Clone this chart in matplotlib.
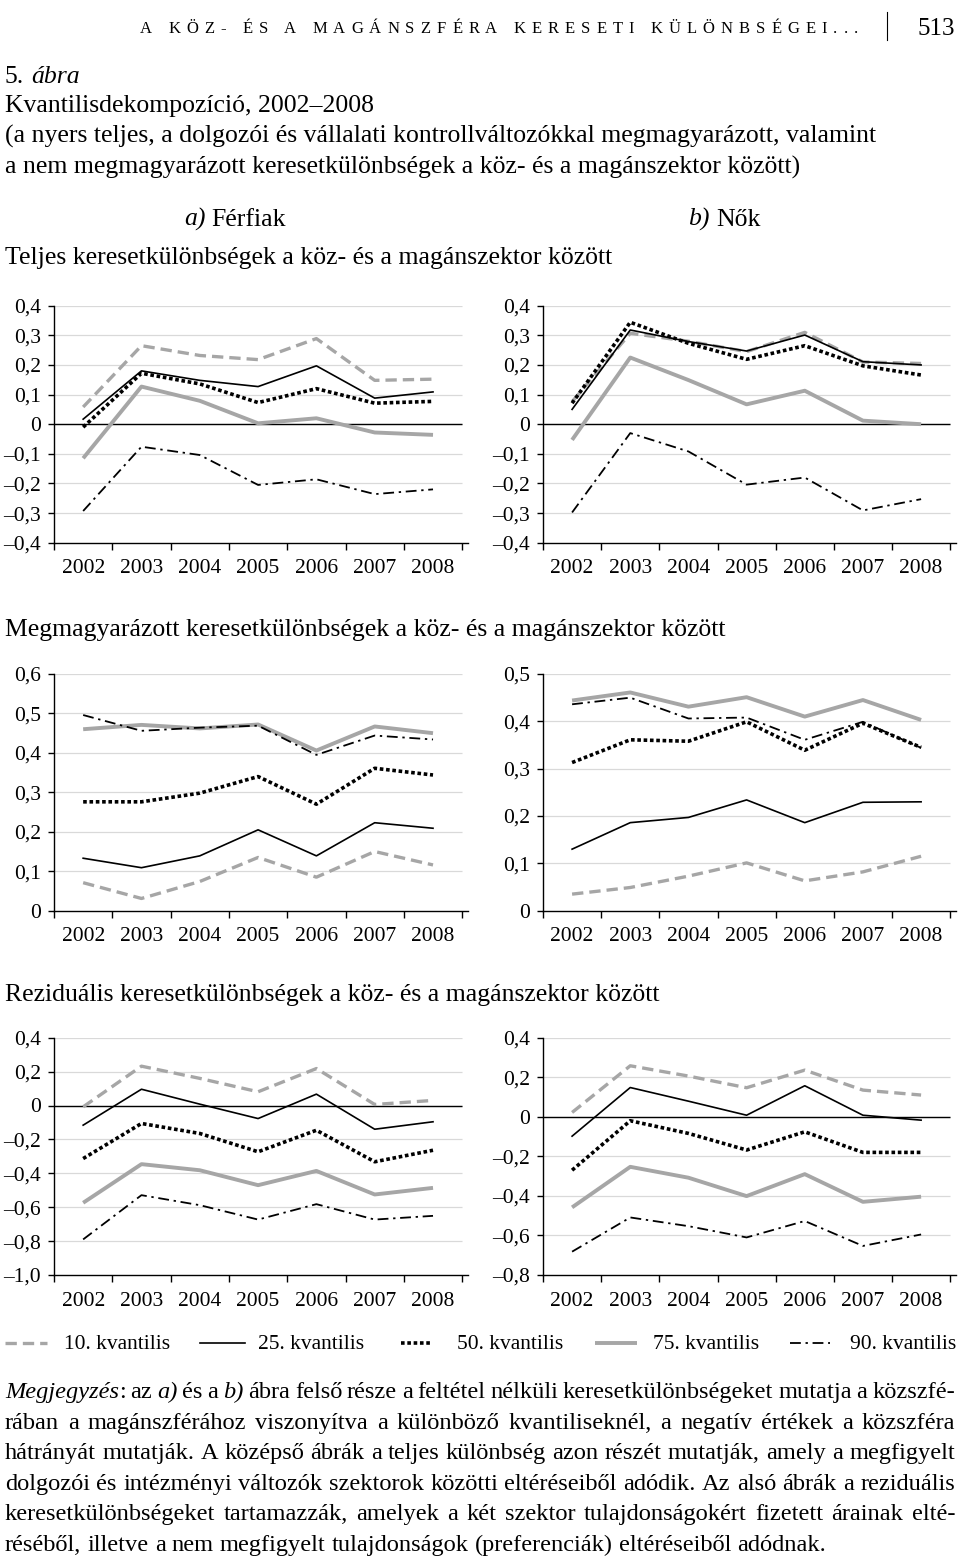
import matplotlib
matplotlib.use('Agg')
import matplotlib.pyplot as plt
from matplotlib.lines import Line2D
import numpy as np

# ---------------- data ----------------
years = ['2002', '2003', '2004', '2005', '2006', '2007', '2008']
quantile_labels = ['10. kvantilis', '25. kvantilis', '50. kvantilis', '75. kvantilis', '90. kvantilis']

# Total gaps (top row)
men_total_q10 = [0.058, 0.265, 0.232, 0.218, 0.289, 0.148, 0.152]
men_total_q25 = [0.017, 0.180, 0.148, 0.127, 0.197, 0.088, 0.109]
men_total_q50 = [-0.010, 0.172, 0.136, 0.073, 0.120, 0.071, 0.077]
men_total_q75 = [-0.115, 0.127, 0.079, 0.003, 0.020, -0.028, -0.036]
men_total_q90 = [-0.293, -0.076, -0.104, -0.205, -0.186, -0.236, -0.220]

women_total_q10 = [0.076, 0.307, 0.280, 0.245, 0.310, 0.210, 0.205]
women_total_q25 = [0.050, 0.318, 0.279, 0.247, 0.301, 0.211, 0.200]
women_total_q50 = [0.071, 0.344, 0.273, 0.219, 0.265, 0.197, 0.166]
women_total_q75 = [-0.053, 0.225, 0.149, 0.067, 0.113, 0.012, 0.000]
women_total_q90 = [-0.298, -0.030, -0.092, -0.204, -0.180, -0.291, -0.253]

# Explained gaps (middle row)
men_expl_q10 = [0.071, 0.031, 0.074, 0.135, 0.085, 0.150, 0.116]
men_expl_q25 = [0.133, 0.109, 0.139, 0.205, 0.139, 0.223, 0.209]
men_expl_q50 = [0.276, 0.276, 0.298, 0.340, 0.270, 0.361, 0.344]
men_expl_q75 = [0.460, 0.471, 0.462, 0.472, 0.406, 0.467, 0.450]
men_expl_q90 = [0.496, 0.456, 0.464, 0.469, 0.395, 0.444, 0.434]

women_expl_q10 = [0.035, 0.049, 0.073, 0.101, 0.063, 0.082, 0.115]
women_expl_q25 = [0.130, 0.186, 0.197, 0.234, 0.186, 0.229, 0.230]
women_expl_q50 = [0.313, 0.361, 0.358, 0.399, 0.339, 0.396, 0.345]
women_expl_q75 = [0.444, 0.461, 0.431, 0.451, 0.410, 0.445, 0.403]
women_expl_q90 = [0.436, 0.450, 0.406, 0.408, 0.361, 0.399, 0.344]

# Residual gaps (bottom row)
men_resid_q10 = [-0.008, 0.232, 0.160, 0.081, 0.218, 0.006, 0.030]
men_resid_q25 = [-0.116, 0.096, 0.008, -0.077, 0.067, -0.140, -0.096]
men_resid_q50 = [-0.313, -0.106, -0.165, -0.273, -0.146, -0.332, -0.264]
men_resid_q75 = [-0.574, -0.346, -0.382, -0.470, -0.386, -0.525, -0.486]
men_resid_q90 = [-0.790, -0.529, -0.588, -0.673, -0.582, -0.673, -0.651]

women_resid_q10 = [0.022, 0.258, 0.206, 0.147, 0.236, 0.135, 0.110]
women_resid_q25 = [-0.098, 0.148, 0.079, 0.008, 0.157, 0.008, -0.017]
women_resid_q50 = [-0.270, -0.020, -0.084, -0.168, -0.076, -0.180, -0.180]
women_resid_q75 = [-0.458, -0.253, -0.308, -0.401, -0.290, -0.430, -0.404]
women_resid_q90 = [-0.682, -0.509, -0.553, -0.610, -0.527, -0.653, -0.595]

# y-axis ticks / labels
top_yticks = [-0.4, -0.3, -0.2, -0.1, 0, 0.1, 0.2, 0.3, 0.4]
top_ylabels = ['–0,4', '–0,3', '–0,2', '–0,1', '0', '0,1', '0,2', '0,3', '0,4']
midL_yticks = [0, 0.1, 0.2, 0.3, 0.4, 0.5, 0.6]
midL_ylabels = ['0', '0,1', '0,2', '0,3', '0,4', '0,5', '0,6']
midR_yticks = [0, 0.1, 0.2, 0.3, 0.4, 0.5]
midR_ylabels = ['0', '0,1', '0,2', '0,3', '0,4', '0,5']
botL_yticks = [-1.0, -0.8, -0.6, -0.4, -0.2, 0, 0.2, 0.4]
botL_ylabels = ['–1,0', '–0,8', '–0,6', '–0,4', '–0,2', '0', '0,2', '0,4']
botR_yticks = [-0.8, -0.6, -0.4, -0.2, 0, 0.2, 0.4]
botR_ylabels = ['–0,8', '–0,6', '–0,4', '–0,2', '0', '0,2', '0,4']

# ---------------- style ----------------
SERIF = ['Liberation Serif', 'DejaVu Serif']
plt.rcParams['font.family'] = SERIF
GRAY = '#a6a6a6'
styles = [
    dict(color=GRAY, lw=2.4, dashes=(3.4, 1.8), dash_capstyle='butt'),
    dict(color='black', lw=1.2),
    dict(color='black', lw=2.6, dashes=(1.0, 0.75), dash_capstyle='butt'),
    dict(color=GRAY, lw=2.8, solid_capstyle='butt'),
    dict(color='black', lw=1.3, dashes=(6, 2.6, 1.3, 2.6), dash_capstyle='butt'),
]

W, H = 960, 1566
fig = plt.figure(figsize=(W / 100, H / 100), dpi=100)
renderer = fig.canvas.get_renderer()


def fx(x):
    return x / W


def fy(y):
    return 1 - y / H


def add_axes(x0, y_top, y_bot, width_px):
    return fig.add_axes([fx(x0), fy(y_bot), width_px / W, (y_bot - y_top) / H])


def setup(ax, yticks, ylabels, zero_line):
    ax.set_xlim(-0.5, 6.6)
    ax.set_ylim(yticks[0], yticks[-1])
    for s in ['top', 'right']:
        ax.spines[s].set_visible(False)
    for s in ['left', 'bottom']:
        ax.spines[s].set_linewidth(1.0)
    ax.set_yticks(yticks)
    ax.set_yticklabels(ylabels, fontsize=15.5)
    ax.tick_params(axis='y', direction='out', length=4.5, width=1.0, pad=5)
    ax.set_xticks(np.arange(-0.5, 7.0, 1.0))
    ax.set_xticklabels([])
    ax.tick_params(axis='x', which='major', direction='out', length=5, width=1.0)
    ax.set_xticks(range(7), minor=True)
    ax.set_xticklabels(years, minor=True, fontsize=15.5)
    ax.tick_params(axis='x', which='minor', length=0, pad=12)
    for yt in yticks[1:]:
        ax.hlines(yt, -0.5, 6.5, color='#d9d9d9', lw=0.9, zorder=0)
    if zero_line:
        ax.hlines(0, -0.5, 6.5, color='black', lw=1.0, zorder=1)


def plot_panel(ax, series):
    x = np.arange(len(years))
    for vals, st in zip(series, styles):
        ax.plot(x, vals, **st, zorder=3)


LX, RX = 54, 543
LW_, RW_ = 414, 413
rows = [(305.7, 542.7), (674.0, 910.7), (1037.7, 1275.0)]

panels = [
    (LX, LW_, rows[0], [men_total_q10, men_total_q25, men_total_q50, men_total_q75, men_total_q90], top_yticks, top_ylabels, True),
    (RX, RW_, rows[0], [women_total_q10, women_total_q25, women_total_q50, women_total_q75, women_total_q90], top_yticks, top_ylabels, True),
    (LX, LW_, rows[1], [men_expl_q10, men_expl_q25, men_expl_q50, men_expl_q75, men_expl_q90], midL_yticks, midL_ylabels, False),
    (RX, RW_, rows[1], [women_expl_q10, women_expl_q25, women_expl_q50, women_expl_q75, women_expl_q90], midR_yticks, midR_ylabels, False),
    (LX, LW_, rows[2], [men_resid_q10, men_resid_q25, men_resid_q50, men_resid_q75, men_resid_q90], botL_yticks, botL_ylabels, True),
    (RX, RW_, rows[2], [women_resid_q10, women_resid_q25, women_resid_q50, women_resid_q75, women_resid_q90], botR_yticks, botR_ylabels, True),
]
for x0, wpx, (yt, yb), series, yticks, ylabels, zl in panels:
    ax = add_axes(x0, yt, yb, wpx)
    setup(ax, yticks, ylabels, zl)
    plot_panel(ax, series)


# ---------------- text helpers ----------------
def text_width(s, size, italic=False):
    t = fig.text(0, 0, s, fontsize=size, style='italic' if italic else 'normal')
    w = t.get_window_extent(renderer).width
    t.remove()
    return w


def draw_words(words, x0, y, size, x1=None, ha='left'):
    """words: list of words; each word = list of (text, italic)."""
    widths = []
    for wd in words:
        widths.append([text_width(tx, size, it) for tx, it in wd])
    totals = [sum(w) for w in widths]
    sp = text_width('a a', size) - text_width('aa', size)
    if x1 is not None and len(words) > 1:
        gap = (x1 - x0 - sum(totals)) / (len(words) - 1)
    else:
        gap = sp
    full = sum(totals) + gap * (len(words) - 1)
    x = x0 - full / 2 if ha == 'center' else x0
    for wd, ws in zip(words, widths):
        for (tx, it), w in zip(wd, ws):
            fig.text(fx(x), fy(y), tx, fontsize=size, style='italic' if it else 'normal',
                     ha='left', va='baseline')
            x += w
        x += gap


def plain(s):
    return [[(w, False)] for w in s.split(' ')]


def spaced(s, x0, x1, y, size):
    chars = list(s)
    ws = [text_width(c, size) if c != ' ' else text_width('n', size) * 0.5 for c in chars]
    track = (x1 - x0 - sum(ws)) / (len(chars) - 1)
    x = x0
    for c, w in zip(chars, ws):
        if c != ' ':
            fig.text(fx(x), fy(y), c, fontsize=size, ha='left', va='baseline')
        x += w + track


# header
spaced('A KÖZ- ÉS A MAGÁNSZFÉRA KERESETI KÜLÖNBSÉGEI...', 140, 858, 33, 12)
fig.add_artist(Line2D([fx(887), fx(887)], [fy(12), fy(40)], color='black', lw=0.8,
                      transform=fig.transFigure))
fig.text(fx(955), fy(35), '513', fontsize=18, ha='right', va='baseline')

TS = 18.5
draw_words([[('5.', False)], [('ábra', True)]], 5, 83, TS)
fig.text(fx(5), fy(112), 'Kvantilisdekompozíció, 2002–2008', fontsize=TS, va='baseline')
fig.text(fx(5), fy(143), '(a nyers teljes, a dolgozói és vállalati kontrollváltozókkal megmagyarázott, valamint',
         fontsize=TS, va='baseline')
fig.text(fx(5), fy(174), 'a nem megmagyarázott keresetkülönbségek a köz- és a magánszektor között)',
         fontsize=TS, va='baseline')

draw_words([[('a)', True)], [('Férfiak', False)]], 235, 226, TS, ha='center')
draw_words([[('b)', True)], [('Nők', False)]], 724, 226, TS, ha='center')

fig.text(fx(5), fy(264), 'Teljes keresetkülönbségek a köz- és a magánszektor között', fontsize=TS, va='baseline')
fig.text(fx(5), fy(636), 'Megmagyarázott keresetkülönbségek a köz- és a magánszektor között', fontsize=TS, va='baseline')
fig.text(fx(5), fy(1001), 'Reziduális keresetkülönbségek a köz- és a magánszektor között', fontsize=TS, va='baseline')

# legend
leg_y = 1343
leg_items = [(5, 47, 64), (200, 245, 258), (401, 432, 457), (595, 637, 653), (790, 830, 850)]
for (a, b, tx), st, lab in zip(leg_items, styles, quantile_labels):
    fig.add_artist(Line2D([fx(a), fx(b)], [fy(leg_y), fy(leg_y)], transform=fig.transFigure, **st))
    fig.text(fx(tx), fy(leg_y + 6), lab, fontsize=15.5, ha='left', va='baseline')

# note
NS = 17.6
note_lines = [
    [[('Megjegyzés', True), (':', False)], [('az', False)], [('a)', True)], [('és', False)], [('a', False)],
     [('b)', True)]] + plain('ábra felső része a feltétel nélküli keresetkülönbségeket mutatja a közszfé-'),
    plain('rában a magánszférához viszonyítva a különböző kvantiliseknél, a negatív értékek a közszféra'),
    plain('hátrányát mutatják. A középső ábrák a teljes különbség azon részét mutatják, amely a megfigyelt'),
    plain('dolgozói és intézményi változók szektorok közötti eltéréseiből adódik. Az alsó ábrák a reziduális'),
    plain('keresetkülönbségeket tartamazzák, amelyek a két szektor tulajdonságokért fizetett árainak elté-'),
    plain('réséből, illetve a nem megfigyelt tulajdonságok (preferenciák) eltéréseiből adódnak.'),
]
for i, ln in enumerate(note_lines):
    y = 1398 + i * 30.6
    if i < len(note_lines) - 1:
        draw_words(ln, 5, y, NS, x1=955)
    else:
        draw_words(ln, 5, y, NS)

fig.savefig('out.png', dpi=100)
